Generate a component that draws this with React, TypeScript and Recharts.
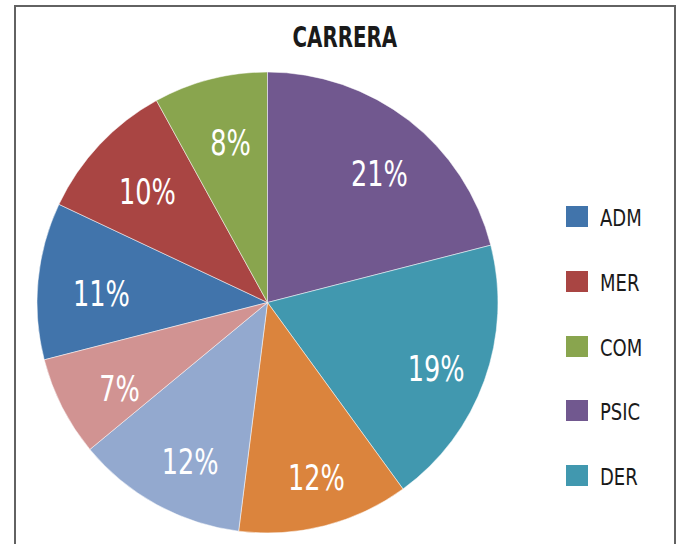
import React from "react";
import { PieChart, Pie, Cell } from "recharts";

// share per career, in legend order (ADM first)
const categories = ["ADM", "MER", "COM", "PSIC", "DER", "OTR1", "OTR2", "OTR3"];
const shares = [11, 10, 8, 21, 19, 12, 12, 7];
const colors = ["#4174AB", "#A94543", "#89A54E", "#71588F", "#4198AF", "#DB843D", "#93A9CF", "#D19392"];
const legendItems = ["ADM", "MER", "COM", "PSIC", "DER"];

const data = categories.map((name, i) => ({ name, value: shares[i] }));

// first slice (ADM) begins after PSIC..OTR3 clockwise from 12 o'clock
const beforeAdm = shares.slice(3).reduce((a, b) => a + b, 0);
const startAngle = 90 - (beforeAdm / 100) * 360;

const font = "'DejaVu Sans Condensed', 'Liberation Sans Narrow', sans-serif";
const RAD = Math.PI / 180;

const renderLabel = (p: any) => {
  const r = p.outerRadius * 0.75;
  // excel-ish best fit sits a bit lower/right of the pure mid-angle point
  const x = p.cx + r * Math.cos(-p.midAngle * RAD) + 6;
  const y = p.cy + r * Math.sin(-p.midAngle * RAD) + 8;
  return (
    <g transform={`translate(${x},${y}) scale(0.79,1)`}>
      <text x={0} y={0} fill="#fff" textAnchor="middle" dominantBaseline="central"
        style={{ fontFamily: font, fontSize: 36 }}>
        {`${p.value}%`}
      </text>
    </g>
  );
};

export default function App() {
  return (
    <div style={{ position: "absolute", left: 0, top: 0, width: 678, height: 544, overflow: "hidden", background: "#fff" }}>
      <div style={{ position: "absolute", left: 14, top: 5, width: 658, height: 600, border: "2px solid #626262" }} />
      <div style={{ position: "absolute", left: 0, top: 23, width: 690, textAlign: "center" }}>
        <span style={{ display: "inline-block", transform: "scaleX(0.76)", fontFamily: font, fontWeight: 700, fontSize: 29, lineHeight: "29px", color: "#1a1a1a" }}>
          CARRERA
        </span>
      </div>
      <div style={{ position: "absolute", left: 0, top: 0 }}>
        <PieChart width={678} height={544} margin={{ top: 0, right: 0, bottom: 0, left: 0 }}>
          <Pie data={data} dataKey="value" nameKey="name" cx={267.5} cy={302.5} outerRadius={230.5}
            startAngle={startAngle} endAngle={startAngle - 360} stroke="#fff" strokeWidth={0.5}
            label={renderLabel} labelLine={false} isAnimationActive={false}>
            {data.map((d, i) => <Cell key={d.name} fill={colors[i]} />)}
          </Pie>
        </PieChart>
      </div>
      <div style={{ position: "absolute", left: 566, top: 206 }}>
        {legendItems.map((name, i) => (
          <div key={name} style={{ display: "flex", alignItems: "center", height: 21, marginBottom: i < legendItems.length - 1 ? 43.75 : 0 }}>
            <div style={{ width: 22, height: 21, background: colors[categories.indexOf(name)] }} />
            <span style={{ marginLeft: 12, display: "inline-block", transformOrigin: "left center", transform: "scaleX(0.87)", fontFamily: font, fontSize: 23, color: "#1a1a1a", lineHeight: "21px", position: "relative", top: 2 }}>{name}</span>
          </div>
        ))}
      </div>
    </div>
  );
}
